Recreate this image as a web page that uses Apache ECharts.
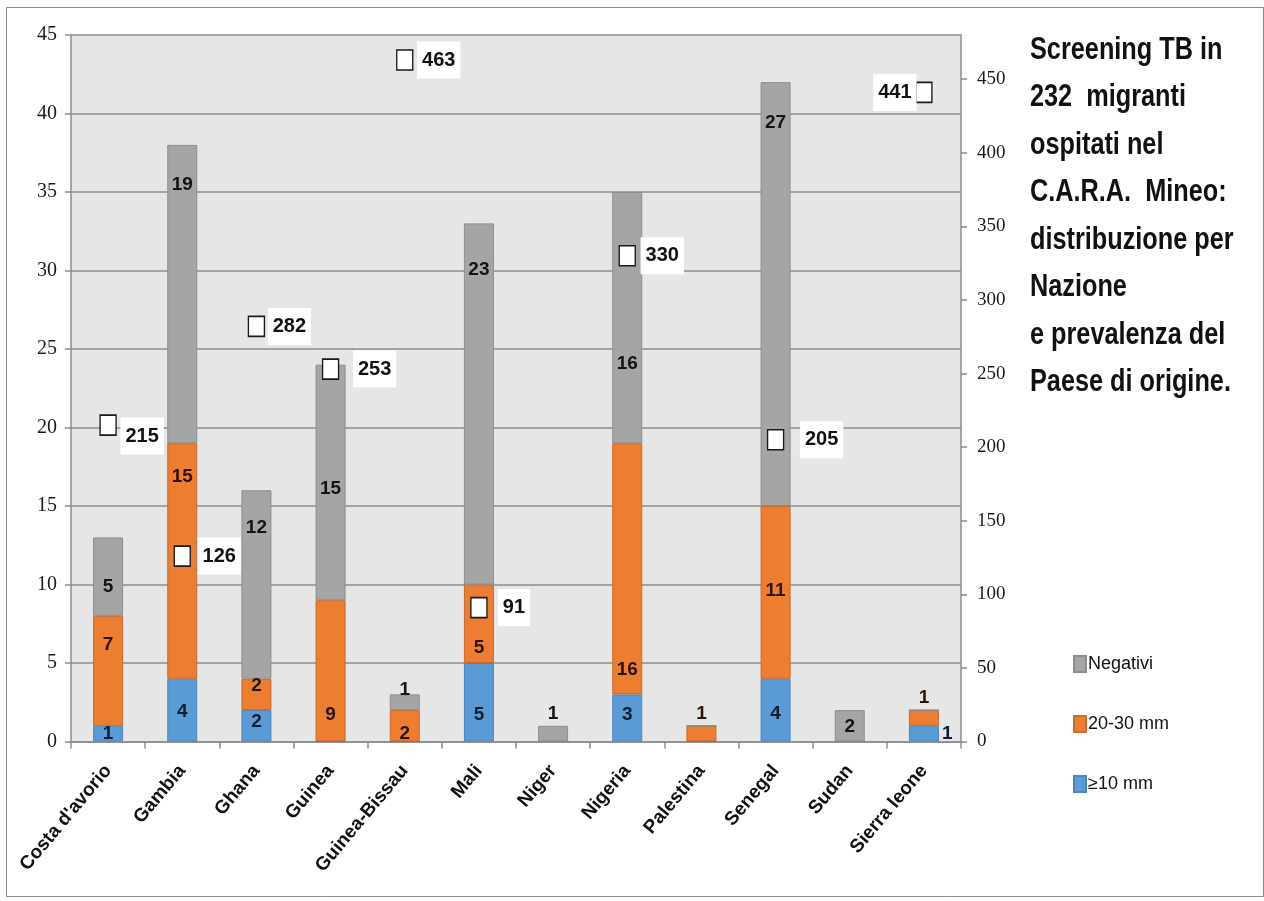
<!DOCTYPE html>
<html>
<head>
<meta charset="utf-8">
<title>Screening TB - C.A.R.A. Mineo</title>
<script src="https://cdn.jsdelivr.net/npm/echarts@6/dist/echarts.min.js"></script>
<style>
  html, body { margin: 0; padding: 0; background: #ffffff; }
  #chart { width: 1264px; height: 901px; }
</style>
</head>
<body>
<div id="chart"></div>
<script>
// Countries of origin
var categories = ["Costa d'avorio", "Gambia", "Ghana", "Guinea", "Guinea-Bissau", "Mali",
                  "Niger", "Nigeria", "Palestina", "Senegal", "Sudan", "Sierra leone"];
// Tuberculin test outcome counts per country (stacked bars, left axis)
var pos10 = [1, 4, 2, 0, 0, 5, 0, 3, 0, 4, 0, 1];
var pos2030 = [7, 15, 2, 9, 2, 5, 0, 16, 1, 11, 0, 1];
var negativi = [5, 19, 12, 15, 1, 23, 1, 16, 0, 27, 2, 0];
// TB prevalence in the country of origin (markers, right axis)
var prevalenza = [215, 126, 282, 253, 463, 91, null, 330, null, 205, null, 441];
// Axis ticks
var leftTicks = [0, 5, 10, 15, 20, 25, 30, 35, 40, 45];
var rightTicks = [0, 50, 100, 150, 200, 250, 300, 350, 400, 450];

var seriesNames = { neg: 'Negativi', mid: '20-30 mm', low: '\u226510 mm' };
var titleLines = ['Screening TB in', '232  migranti', 'ospitati nel', 'C.A.R.A.  Mineo:',
                  'distribuzione per', 'Nazione', 'e prevalenza del', 'Paese di origine.'];

var SANS = "'Liberation Sans', Arial, sans-serif";
var SERIF = "'Liberation Serif', 'DejaVu Serif', serif";

// Small segments whose value label sits outside the bar
var labelPlacement = {
  low: { 11: 'right' },
  mid: { 8: 'top', 11: 'top' },
  neg: { 6: 'top' }
};
// Vertical shifts (px) of the in-bar value labels, per country
var labelShift = {
  low: [0, 2, -4, 0, 0, 13, 0, -3, 0, 4, 0, 0],
  mid: [-26, -84, -9, 44, 8, 24, 0, 101, 0, -2, 0, 0],
  neg: [10, -109, -57, 6, -12, -134, 0, 46, 0, -171, 1, 0]
};
// Offsets of the prevalence value boxes from their markers
var boxOffsets = [[34, 11], [37, 0], [33, 0], [44, 0], [34, 0], [35, 0], [0, 0],
                  [35, 0], [0, 0], [46, 0], [0, 0], [-29, 0]];

function barSeries(key, values, color, border, textColor) {
  return {
    name: seriesNames[key],
    type: 'bar',
    stack: 'esiti',
    barWidth: 30,
    itemStyle: { color: color, borderColor: border, borderWidth: 1 },
    data: values.map(function (v, i) {
      var item = { value: v };
      var pos = labelPlacement[key][i];
      if (pos) {
        item.label = { position: pos, distance: 3 };
      } else {
        item.label = { offset: [0, labelShift[key][i]] };
      }
      return item;
    }),
    label: {
      show: true,
      position: 'inside',
      formatter: function (p) { return p.value ? String(p.value) : ''; },
      fontFamily: SANS,
      fontWeight: 'bold',
      fontSize: 19,
      color: textColor
    },
    emphasis: { disabled: true }
  };
}

var chart = echarts.init(document.getElementById('chart'), null, { renderer: 'canvas' });

var option = {
  animation: false,
  backgroundColor: '#ffffff',
  legend: {
    orient: 'vertical',
    left: 1068,
    top: 650,
    itemWidth: 12,
    itemHeight: 16,
    itemGap: 42,
    icon: 'rect',
    data: [seriesNames.neg, seriesNames.mid, seriesNames.low],
    textStyle: { fontFamily: SANS, fontSize: 18, color: '#111111', padding: [0, 0, 0, -3] }
  },
  grid: { left: 71, right: 303, top: 35, bottom: 159.5, show: true,
          backgroundColor: '#e6e6e6', borderWidth: 0 },
  xAxis: {
    type: 'category',
    data: categories,
    boundaryGap: true,
    axisLine: { lineStyle: { color: '#8c8c8c', width: 1.5 } },
    axisTick: { show: true, length: 7, interval: 0, lineStyle: { color: '#8c8c8c', width: 1.5 } },
    axisLabel: {
      interval: 0,
      rotate: 50,
      margin: 26,
      fontFamily: SANS,
      fontWeight: 'bold',
      fontSize: 19,
      color: '#111111'
    }
  },
  yAxis: [{
    type: 'value',
    min: leftTicks[0],
    max: leftTicks[leftTicks.length - 1],
    interval: leftTicks[1] - leftTicks[0],
    axisLine: { show: true, lineStyle: { color: '#8c8c8c', width: 1.5 } },
    axisTick: { show: true, length: 6, lineStyle: { color: '#8c8c8c', width: 1.5 } },
    splitLine: { lineStyle: { color: '#8c8c8c', width: 1.5 } },
    axisLabel: { margin: 14, fontFamily: SERIF, fontSize: 20, color: '#1a1a1a' }
  }, {
    type: 'value',
    min: rightTicks[0],
    max: 480,
    interval: rightTicks[1] - rightTicks[0],
    axisLine: { show: true, lineStyle: { color: '#8c8c8c', width: 1.5 } },
    axisTick: { show: true, length: 6, lineStyle: { color: '#8c8c8c', width: 1.5 } },
    splitLine: { show: false },
    axisLabel: {
      margin: 16, fontFamily: SERIF, fontSize: 19, color: '#1a1a1a',
      showMaxLabel: false,
      formatter: function (v) { return rightTicks.indexOf(v) >= 0 ? String(v) : ''; }
    }
  }],
  series: [
    barSeries('low', pos10, '#5b9bd5', '#4a86bd', '#0e1d36'),
    barSeries('mid', pos2030, '#ed7d31', '#c9692a', '#2a1408'),
    barSeries('neg', negativi, '#a5a5a5', '#8e8e8e', '#141414'),
    {
      name: 'Prevalenza',
      type: 'scatter',
      yAxisIndex: 1,
      symbol: 'rect',
      symbolSize: [16, 20],
      z: 5,
      itemStyle: { color: '#ffffff', borderColor: '#1a1a1a', borderWidth: 1.5, opacity: 1 },
      data: prevalenza.map(function (v, i) {
        return {
          value: [i, v],
          label: { offset: boxOffsets[i] }
        };
      }),
      label: {
        show: true,
        position: 'inside',
        formatter: function (p) { return p.value[1] == null ? '' : String(p.value[1]); },
        fontFamily: SANS,
        fontWeight: 'bold',
        fontSize: 20,
        color: '#111111',
        backgroundColor: '#ffffff',
        padding: [9, 5, 8, 5]
      },
      emphasis: { disabled: true }
    }
  ],
  graphic: [{
    type: 'rect',
    shape: { x: 6.5, y: 7.5, width: 1257, height: 889 },
    style: { fill: 'none', stroke: '#8a8a8a', lineWidth: 1 },
    silent: true
  }, {
    // Title block, set in a tall condensed bold face
    type: 'text',
    x: 1030,
    y: 26,
    scaleX: 0.79,
    silent: true,
    style: {
      text: titleLines.join('\n'),
      fontFamily: SANS,
      fontWeight: 'bold',
      fontSize: 32,
      lineHeight: 47.5,
      fill: '#111111'
    }
  }]
};

chart.setOption(option);
</script>
</body>
</html>
